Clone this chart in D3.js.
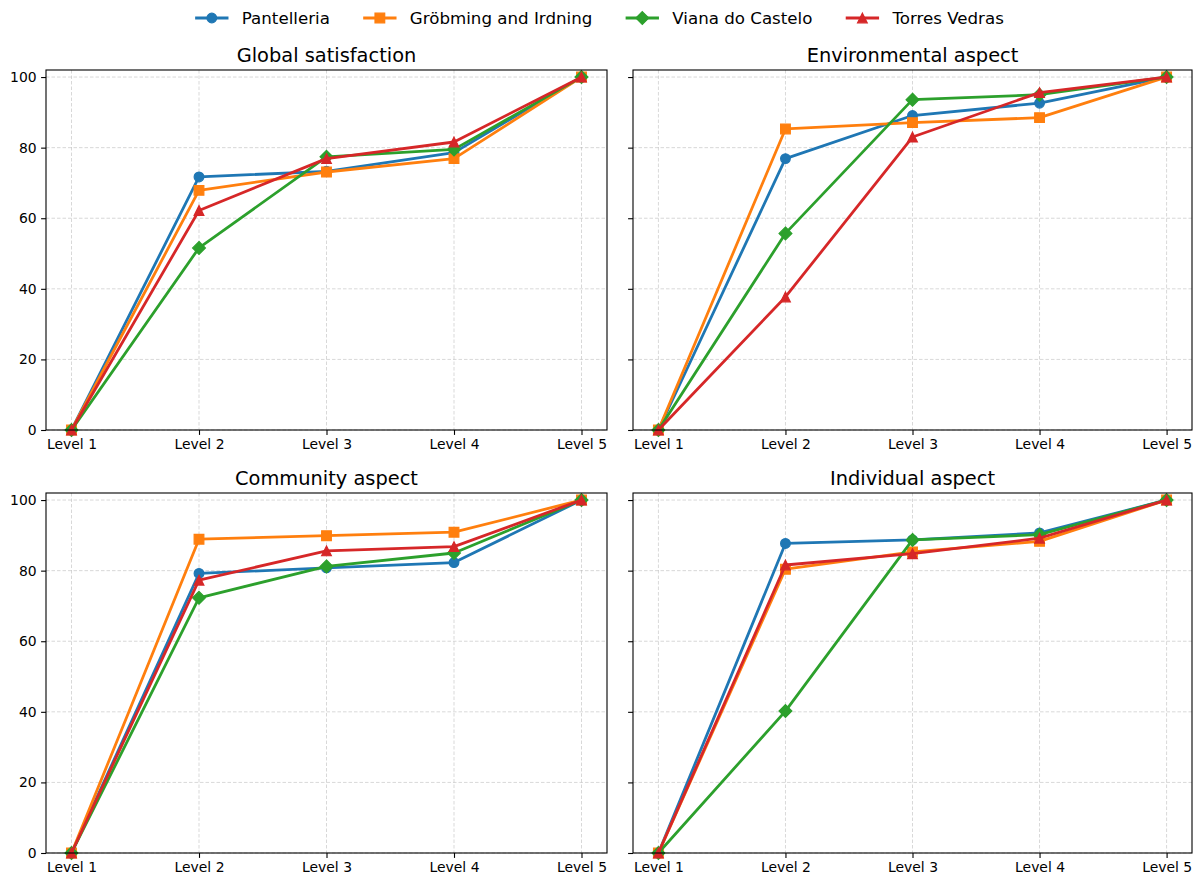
<!DOCTYPE html>
<html>
<head>
<meta charset="utf-8">
<script src="https://cdn.jsdelivr.net/npm/d3@7"></script>
<style>
  html, body { margin: 0; padding: 0; background: #fff; }
  svg { display: block; font-family: "DejaVu Sans", sans-serif; }
</style>
</head>
<body>
<svg id="chart" width="1199" height="879"></svg>
<script>
// Satisfaction levels (cumulative %) per territory and aspect
const levels = ["Level 1", "Level 2", "Level 3", "Level 4", "Level 5"];
const territories = ["Pantelleria", "Gröbming and Irdning", "Viana do Castelo", "Torres Vedras"];
const colors = ["#1f77b4", "#ff7f0e", "#2ca02c", "#d62728"];
const markers = ["circle", "square", "diamond", "triangle"];
const panelTitles = ["Global satisfaction", "Environmental aspect", "Community aspect", "Individual aspect"];
const yTicks = [0, 20, 40, 60, 80, 100];

const globalSatisfaction = [
  [0, 71.7, 73.3, 78.6, 100],
  [0, 67.9, 73.1, 76.9, 100],
  [0, 51.6, 77.4, 79.5, 100],
  [0, 62.2, 76.9, 81.6, 100]
];
const environmentalAspect = [
  [0, 76.9, 89.1, 92.6, 100],
  [0, 85.3, 87.1, 88.5, 100],
  [0, 55.7, 93.6, 95.0, 100],
  [0, 37.7, 83.0, 95.6, 100]
];
const communityAspect = [
  [0, 79.2, 80.8, 82.3, 100],
  [0, 88.9, 89.9, 90.9, 100],
  [0, 72.3, 81.2, 85.0, 100],
  [0, 77.3, 85.6, 86.8, 100]
];
const individualAspect = [
  [0, 87.7, 88.7, 90.7, 100],
  [0, 80.4, 85.3, 88.3, 100],
  [0, 40.2, 88.7, 90.2, 100],
  [0, 81.6, 84.8, 89.2, 100]
];
const panelData = [globalSatisfaction, environmentalAspect, communityAspect, individualAspect];

const svg = d3.select("#chart");

// 2x2 grid of axes boxes
const cols = [[46, 607], [633, 1192]];
const rows = [[70, 430], [493, 853]];

const markerSize = 9.7;
function markerPath(kind) {
  const s = markerSize;
  switch (kind) {
    case "circle": return d3.symbol(d3.symbolCircle, Math.PI * (s / 2) ** 2)();
    case "square": return `M${-s/2},${-s/2}H${s/2}V${s/2}H${-s/2}Z`;
    case "diamond": { const d = s * 0.66; return `M0,${-d}L${d},0L0,${d}L${-d},0Z`; }
    case "triangle": { const h = s / 2; return `M0,${-h}L${h},${h}L${-h},${h}Z`; }
  }
}

panelData.forEach((series, p) => {
  const [x0, x1] = cols[p % 2];
  const [y0, y1] = rows[Math.floor(p / 2)];
  const g = svg.append("g");

  const x = d3.scalePoint().domain(levels).range([x0, x1]).padding(0.2);
  const y = d3.scaleLinear().domain([0, 102]).range([y1, y0]);

  // grid lines
  const grid = g.append("g").attr("stroke", "#b0b0b0").attr("stroke-opacity", 0.7)
    .attr("stroke-width", 0.7).attr("stroke-dasharray", "3.5,2");
  grid.selectAll("line.v").data(levels).join("line").attr("class", "v")
    .attr("x1", d => x(d)).attr("x2", d => x(d)).attr("y1", y0).attr("y2", y1);
  grid.selectAll("line.h").data(yTicks).join("line").attr("class", "h")
    .attr("x1", x0).attr("x2", x1).attr("y1", d => y(d)).attr("y2", d => y(d));

  // axes
  const xAxis = g.append("g").attr("transform", `translate(0,${y1})`)
    .call(d3.axisBottom(x).tickSize(4.9).tickPadding(4.5).tickSizeOuter(0));
  const yAxis = g.append("g").attr("transform", `translate(${x0},0)`)
    .call(d3.axisLeft(y).tickValues(yTicks).tickSize(4.9).tickPadding(4.5)
      .tickFormat(p % 2 === 0 ? d3.format("d") : () => ""));
  [xAxis, yAxis].forEach(a => {
    a.select(".domain").remove();
    a.selectAll("line").attr("stroke", "#000").attr("stroke-width", 1.1);
    a.selectAll("text").attr("font-size", 13.9).attr("fill", "#000")
      .attr("font-family", "DejaVu Sans, sans-serif");
  });

  // series
  const line = d3.line().x((d, i) => x(levels[i])).y(d => y(d));
  series.forEach((vals, s) => {
    const sg = g.append("g");
    sg.append("path").attr("d", line(vals)).attr("fill", "none")
      .attr("stroke", colors[s]).attr("stroke-width", 2.78).attr("stroke-linejoin", "round")
      .attr("stroke-linecap", "square");
    sg.selectAll("path.m").data(vals).join("path").attr("class", "m")
      .attr("d", markerPath(markers[s]))
      .attr("transform", (d, i) => `translate(${x(levels[i])},${y(d)})`)
      .attr("fill", colors[s]).attr("stroke", colors[s]).attr("stroke-width", 1.2);
  });

  // frame
  g.append("rect").attr("x", x0).attr("y", y0).attr("width", x1 - x0).attr("height", y1 - y0)
    .attr("fill", "none").attr("stroke", "#000").attr("stroke-width", 1.1);

  // title
  g.append("text").attr("x", (x0 + x1) / 2).attr("y", y0 - 8.3)
    .attr("text-anchor", "middle").attr("font-size", 19.4).attr("fill", "#000")
    .text(panelTitles[p]);
});

// legend across the top
const legend = svg.append("g");
const fs = 16.67, handleLen = 2 * fs, textPad = 0.8 * fs, colSpace = 2 * fs, legendY = 18;
const items = territories.map((name, i) => {
  const it = legend.append("g");
  const t = it.append("text").attr("x", handleLen + textPad).attr("y", legendY)
    .attr("dy", "0.35em").attr("font-size", fs).attr("fill", "#000").text(name);
  it.append("line").attr("x1", 0).attr("x2", handleLen).attr("y1", legendY).attr("y2", legendY)
    .attr("stroke", colors[i]).attr("stroke-width", 2.78);
  it.append("path").attr("d", markerPath(markers[i]))
    .attr("transform", `translate(${handleLen / 2},${legendY})`)
    .attr("fill", colors[i]).attr("stroke", colors[i]).attr("stroke-width", 1.2);
  return { g: it, w: handleLen + textPad + t.node().getComputedTextLength() };
});
const total = d3.sum(items, d => d.w) + colSpace * (items.length - 1);
let cx = 599.5 - total / 2;
items.forEach(d => { d.g.attr("transform", `translate(${cx},0)`); cx += d.w + colSpace; });
</script>
</body>
</html>
